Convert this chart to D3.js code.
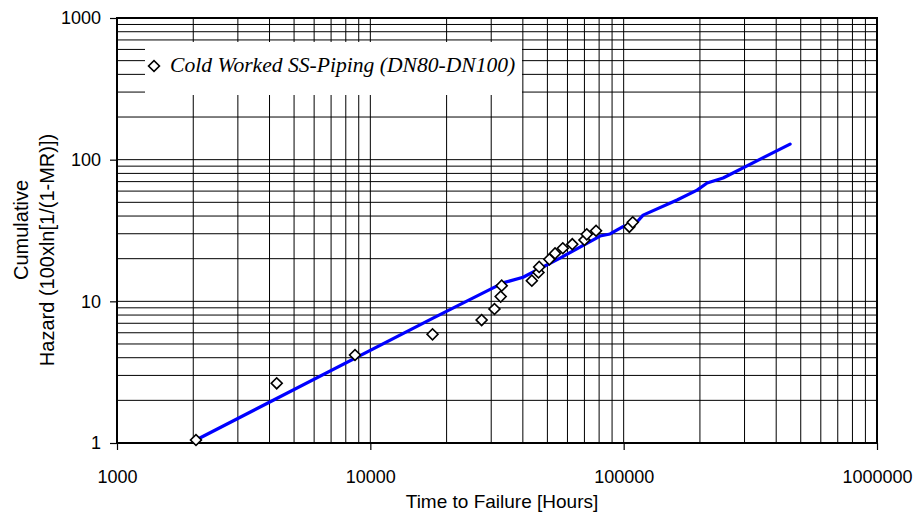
<!DOCTYPE html>
<html>
<head>
<meta charset="utf-8">
<script src="https://cdn.jsdelivr.net/npm/d3@7"></script>
<style>
  body { margin: 0; background: #fff; }
</style>
</head>
<body>
<div id="chart"></div>
<script>
const hours = [2050, 4270, 8700, 17600, 27500, 30900, 32700, 33000, 43400, 46100,
  46400, 50900, 53600, 57500, 62700, 70000, 71500, 77800, 105300, 108600];
const hazard = [1.05, 2.64, 4.18, 5.85, 7.38, 8.83, 10.8, 12.9, 14.0, 16.0,
  17.5, 19.8, 21.8, 23.7, 25.3, 27.1, 29.7, 31.5, 33.6, 36.1];

// fitted curve
const fitHours = [2050, 17680, 33410, 40080, 56090, 80690, 88370, 98560, 112900,
  119300, 162500, 194900, 213500, 246900, 453900];
const fitHazard = [1.05, 7.62, 13.5, 14.8, 20.2, 28.9, 29.9, 33.4, 36.3,
  40.6, 51.9, 61.0, 68.4, 74.2, 128.8];

const xTicks = [1000, 10000, 100000, 1000000];
const yTicks = [1, 10, 100, 1000];
const seriesName = "Cold Worked SS-Piping (DN80-DN100)";

const width = 917, height = 514;
const margin = { top: 18, right: 40, bottom: 71, left: 117 };
const plotW = width - margin.left - margin.right,
  plotH = height - margin.top - margin.bottom;

const svg = d3.select("#chart")
  .append("svg")
  .attr("width", width)
  .attr("height", height)
  .style("font-family", "'Liberation Sans', Arial, sans-serif");

const g = svg.append("g")
  .attr("transform", `translate(${margin.left},${margin.top})`);

const x = d3.scaleLog().domain([1000, 1000000]).range([0, plotW]);
const y = d3.scaleLog().domain([1, 1000]).range([plotH, 0]);

// grid, every 1..9 of each decade
g.append("g")
  .selectAll("line")
  .data(x.ticks())
  .join("line")
  .attr("x1", d => x(d)).attr("x2", d => x(d))
  .attr("y1", 0).attr("y2", plotH)
  .attr("stroke", "#000")
  .attr("stroke-width", 1);

g.append("g")
  .selectAll("line")
  .data(y.ticks())
  .join("line")
  .attr("y1", d => y(d)).attr("y2", d => y(d))
  .attr("x1", 0).attr("x2", plotW)
  .attr("stroke", "#000")
  .attr("stroke-width", 1);

// axes
const xAxis = g.append("g")
  .attr("transform", `translate(0,${plotH})`)
  .call(d3.axisBottom(x).tickValues(xTicks).tickFormat(d3.format("d"))
    .tickSize(7).tickSizeOuter(0).tickPadding(20));

const yAxis = g.append("g")
  .call(d3.axisLeft(y).tickValues(yTicks).tickFormat(d3.format("d"))
    .tickSize(7).tickSizeOuter(0).tickPadding(9));

[xAxis, yAxis].forEach(a => {
  a.select(".domain").remove();
  a.selectAll(".tick line").attr("stroke", "#000").attr("stroke-width", 1.2);
  a.selectAll("text")
    .attr("fill", "#000")
    .style("font-size", "18px")
    .style("font-family", "'Liberation Sans', Arial, sans-serif");
});

// frame
g.append("rect")
  .attr("width", plotW)
  .attr("height", plotH)
  .attr("fill", "none")
  .attr("stroke", "#000")
  .attr("stroke-width", 2);

// legend
const legend = g.append("g");
legend.append("rect")
  .attr("x", 28).attr("y", 24)
  .attr("width", 377).attr("height", 53)
  .attr("fill", "#fff");

const diamond = d3.symbol().type(d3.symbolSquare).size(60);

legend.append("path")
  .attr("d", diamond())
  .attr("transform", "translate(37,48) rotate(45)")
  .attr("fill", "#fff")
  .attr("stroke", "#000")
  .attr("stroke-width", 1.6);

legend.append("text")
  .attr("x", 53).attr("y", 54)
  .text(seriesName)
  .style("font-family", "'Liberation Serif', 'Times New Roman', serif")
  .style("font-style", "italic")
  .style("font-size", "21.6px");

// fitted line
const line = d3.line()
  .x((d, i) => x(fitHours[i]))
  .y((d, i) => y(fitHazard[i]));

g.append("path")
  .datum(fitHours)
  .attr("d", line)
  .attr("fill", "none")
  .attr("stroke", "#0000ff")
  .attr("stroke-width", 3.2)
  .attr("stroke-linejoin", "round")
  .attr("stroke-linecap", "round");

// data markers
g.append("g")
  .selectAll("path")
  .data(hours)
  .join("path")
  .attr("d", diamond())
  .attr("transform", (d, i) => `translate(${x(d)},${y(hazard[i])}) rotate(45)`)
  .attr("fill", "#fff")
  .attr("stroke", "#000")
  .attr("stroke-width", 1.6);

// axis titles
svg.append("text")
  .attr("x", 502)
  .attr("y", 508)
  .attr("text-anchor", "middle")
  .style("font-size", "19px")
  .text("Time to Failure [Hours]");

const yTitle = svg.append("text")
  .attr("transform", "translate(0,230) rotate(-90)")
  .attr("text-anchor", "middle")
  .style("font-size", "20px");
yTitle.append("tspan").attr("x", 0).attr("y", 28).text("Cumulative");
yTitle.append("tspan").attr("x", -20).attr("y", 54).text("Hazard (100xln[1/(1-MR)])");
</script>
</body>
</html>
